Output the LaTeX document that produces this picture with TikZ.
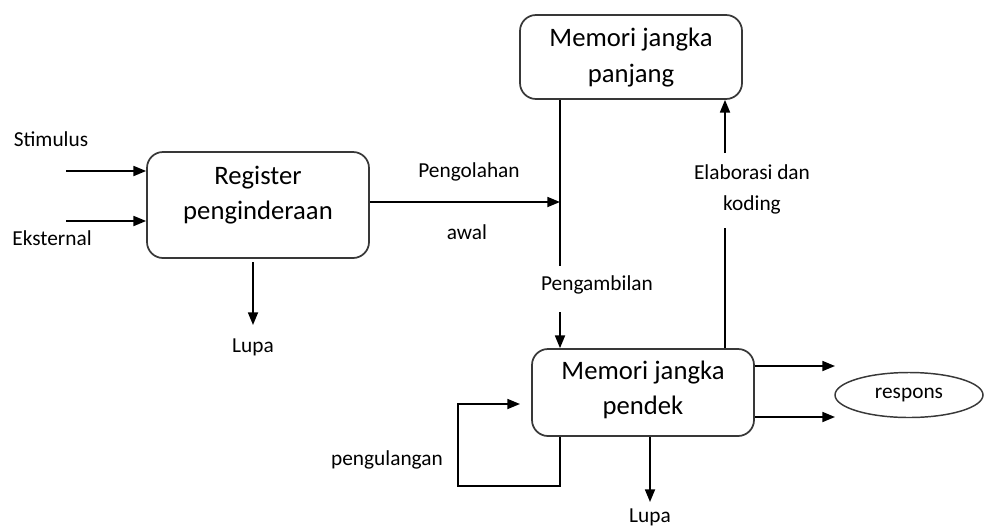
\documentclass[tikz,border=0pt]{standalone}
\usepackage{fontspec}
\setmainfont{Carlito}
\usetikzlibrary{arrows.meta,calc,shapes.geometric}
\tikzset{
  box/.style={draw=black!78, line width=1.3pt, rounded corners=12pt, minimum width=166.5pt},
  boxtext/.style={align=center, font=\fontsize{20}{26.5}\selectfont, inner sep=0pt},
  lbl/.style={font=\fontsize{16}{19}\selectfont, inner sep=0pt},
  conn/.style={draw=black, line width=1.3pt},
  arr/.style={conn, -{Triangle[length=9.5pt,width=7.5pt]}},
  resp/.style={ellipse, draw=black!78, line width=1.1pt, minimum width=111pt, minimum height=33.75pt, inner sep=0pt}
}
\begin{document}
\begin{tikzpicture}[x=0.75pt,y=-0.75pt]
\useasboundingbox (0,0) rectangle (985,529);
% boxes
\node[box, minimum height=79.5pt] (reg) at (258,205) {};
\node[boxtext] (regt) at (258,195) {Register\\penginderaan};
\node[box, minimum height=63pt] (ltm) at (631,57) {};
\node[boxtext] (ltmt) at (631,57.5) {Memori jangka\\panjang};
\node[box, minimum height=65.25pt] (stm) at (643,392.5) {};
\node[boxtext] (stmt) at (643,390) {Memori jangka\\pendek};
\node[resp] (respons) at (909,395) {\fontsize{16}{19}\selectfont respons};
% labels
\node[lbl] (stim) at (51,139) {Stimulus};
\node[lbl] (eks) at (52,238) {Eksternal};
\node[lbl] (lupa1) at (253,347) {Lupa};
\node[lbl] (peng) at (469,172) {Pengolahan};
\node[lbl] (awal) at (467,232) {awal};
\node[lbl] (elab) at (752,172) {Elaborasi dan};
\node[lbl] (kod) at (752,205) {koding};
\node[lbl] (ambil) at (597,285) {Pengambilan};
\node[lbl] (ulang) at (387,460) {pengulangan};
\node[lbl] (lupa2) at (650,517) {Lupa};
% coordinates
\coordinate (s1) at (66,171);
\coordinate (s2) at (66,221);
\coordinate (l1s) at (253,262);
\coordinate (l1e) at (253,325);
\coordinate (j) at (560,202);
\coordinate (r1) at (560,266);
\coordinate (r2) at (560,312);
\coordinate (e1) at (725,228);
\coordinate (e2) at (725,153);
\coordinate (lp1) at (458,486);
\coordinate (lp2) at (520,404);
\coordinate (l2e) at (650,502);
\coordinate (ra) at (835,366);
\coordinate (rb) at (835,417);
% connectors
\draw[arr] (s1) -- (s1 -| reg.west);
\draw[arr] (s2) -- (s2 -| reg.west);
\draw[arr] (l1s) -- (l1e);
\draw[arr] (j -| reg.east) -- (j);
\draw[conn] (ltm.south -| j) -- (r1);
\draw[arr] (r2) -- (r2 |- stm.north);
\draw[conn] (e1 |- stm.north) -- (e1);
\draw[arr] (e2) -- (e2 |- ltm.south);
\draw[arr] (r2 |- stm.south) |- (lp1) |- (lp2);
\draw[arr] (l2e |- stm.south) -- (l2e);
\draw[arr] (ra -| stm.east) -- (ra);
\draw[arr] (rb -| stm.east) -- (rb);
\end{tikzpicture}
\end{document}
